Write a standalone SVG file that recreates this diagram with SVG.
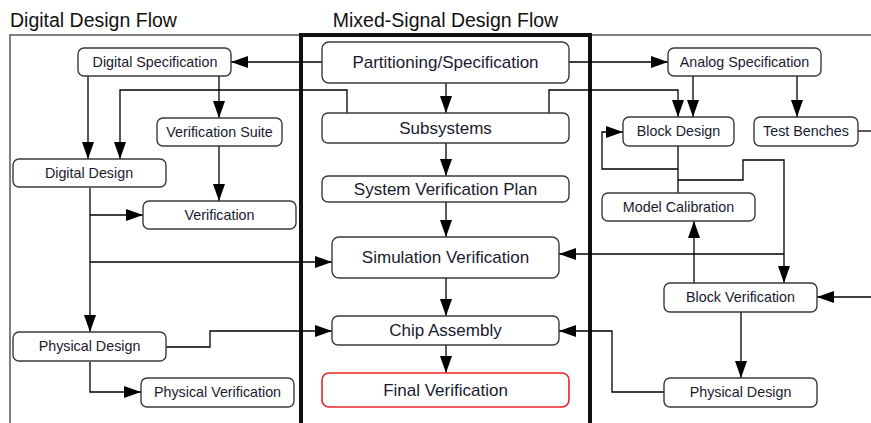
<svg xmlns="http://www.w3.org/2000/svg" width="871" height="423" viewBox="0 0 871 423">
  <defs>
    <marker id="arrow" markerUnits="userSpaceOnUse" markerWidth="17" markerHeight="12" refX="17" refY="6" orient="auto">
      <path d="M0,0 L17,6 L0,12 z" fill="#000"/>
    </marker>
    <style>
      .title { font-family: "Liberation Sans", Arial, sans-serif; font-size: 19.5px; fill: #111; }
      .node rect { fill: #fff; stroke: #3a3a3a; stroke-width: 1.4; }
      .node text { font-family: "Liberation Sans", Arial, sans-serif; font-size: 14.3px; fill: #1a1a2e; text-anchor: middle; }
      .big text { font-size: 17px; }
      .final rect { stroke: #e8242a; stroke-width: 1.6; }
      .frame { fill: none; stroke: #555; stroke-width: 1.5; }
      .lane { fill: none; stroke: #111; stroke-width: 4; }
      #connectors path { fill: none; stroke: #000; stroke-width: 1.3; }
      #connectors path.arr { marker-end: url(#arrow); }
    </style>
  </defs>

  <rect width="871" height="423" fill="#fff"/>

  <!-- swimlane frames -->
  <path class="frame" d="M10,440 V35 H880"/>
  <rect class="lane" x="301" y="35" width="289" height="420"/>

  <text class="title" x="10" y="27">Digital Design Flow</text>
  <text class="title" x="445.5" y="27" text-anchor="middle">Mixed-Signal Design Flow</text>

  <!-- connectors -->
  <g id="connectors">
    <path class="arr" d="M322,62 H231"/>
    <path class="arr" d="M569,62 H668"/>
    <path class="arr" d="M446,83 V113"/>
    <path class="arr" d="M347,113 V90 H120 V159"/>
    <path class="arr" d="M549,113 V90 H678 V117"/>
    <path class="arr" d="M693,76 V117"/>
    <path class="arr" d="M797,76 V117"/>
    <path class="arr" d="M88,76 V159"/>
    <path class="arr" d="M219,76 V118"/>
    <path class="arr" d="M219,146 V201"/>
    <path class="arr" d="M90,188 V332"/>
    <path class="arr" d="M90,215 H143"/>
    <path class="arr" d="M90,262 H332"/>
    <path class="arr" d="M166,347 H210 V331 H332"/>
    <path class="arr" d="M90,362 V392 H141"/>
    <path class="arr" d="M446,143 V176"/>
    <path class="arr" d="M446,202 V237"/>
    <path class="arr" d="M446,278 V316"/>
    <path class="arr" d="M446,345 V373"/>
    <path d="M678,146 V193"/>
    <path class="arr" d="M678,169 H602 V132 H623"/>
    <path class="arr" d="M678,180 H743 V160 H784 V283"/>
    <path class="arr" d="M784,254 H559"/>
    <path class="arr" d="M694,283 V221"/>
    <path d="M858,131 H871"/>
    <path class="arr" d="M871,297 H817"/>
    <path class="arr" d="M741,312 V378"/>
    <path class="arr" d="M664,392 H612 V331 H559"/>
  </g>

  <!-- digital flow -->
  <g id="digital-spec" class="node"><rect x="78" y="48" width="153" height="28" rx="6"/><text x="155" y="66.5">Digital Specification</text></g>
  <g id="verification-suite" class="node"><rect x="157" y="118" width="125" height="28" rx="6"/><text x="219.5" y="136.5">Verification Suite</text></g>
  <g id="digital-design" class="node"><rect x="13" y="159" width="153" height="28" rx="6"/><text x="89" y="177.5">Digital Design</text></g>
  <g id="verification" class="node"><rect x="143" y="201" width="153" height="28" rx="6"/><text x="219.5" y="219.5">Verification</text></g>
  <g id="physical-design-digital" class="node"><rect x="13" y="332" width="153" height="29" rx="6"/><text x="89.5" y="351">Physical Design</text></g>
  <g id="physical-verification" class="node"><rect x="141" y="378" width="153" height="29" rx="6"/><text x="217.5" y="397">Physical Verification</text></g>

  <!-- mixed-signal flow -->
  <g id="partitioning" class="node big"><rect x="322" y="42" width="247" height="41" rx="7"/><text x="445.5" y="67.5">Partitioning/Specification</text></g>
  <g id="subsystems" class="node big"><rect x="322" y="113" width="247" height="30" rx="6"/><text x="445.5" y="133.5">Subsystems</text></g>
  <g id="system-verification-plan" class="node big"><rect x="322" y="176" width="247" height="26" rx="6"/><text x="445.5" y="194.5">System Verification Plan</text></g>
  <g id="simulation-verification" class="node big"><rect x="332" y="237" width="227" height="41" rx="7"/><text x="445.5" y="262.5">Simulation Verification</text></g>
  <g id="chip-assembly" class="node big"><rect x="332" y="316" width="227" height="29" rx="6"/><text x="445.5" y="336">Chip Assembly</text></g>
  <g id="final-verification" class="node big final"><rect x="322" y="373" width="247" height="34" rx="7"/><text x="445.5" y="395.5">Final Verification</text></g>

  <!-- analog flow -->
  <g id="analog-spec" class="node"><rect x="668" y="48" width="153" height="28" rx="6"/><text x="744.5" y="66.5">Analog Specification</text></g>
  <g id="block-design" class="node"><rect x="623" y="117" width="111" height="29" rx="6"/><text x="678.5" y="136">Block Design</text></g>
  <g id="test-benches" class="node"><rect x="754" y="117" width="104" height="29" rx="6"/><text x="806" y="136">Test Benches</text></g>
  <g id="model-calibration" class="node"><rect x="602" y="193" width="153" height="28" rx="6"/><text x="678.5" y="211.5">Model Calibration</text></g>
  <g id="block-verification" class="node"><rect x="664" y="283" width="153" height="29" rx="6"/><text x="740.5" y="302">Block Verification</text></g>
  <g id="physical-design-analog" class="node"><rect x="664" y="378" width="153" height="29" rx="6"/><text x="740.5" y="397">Physical Design</text></g>
</svg>
